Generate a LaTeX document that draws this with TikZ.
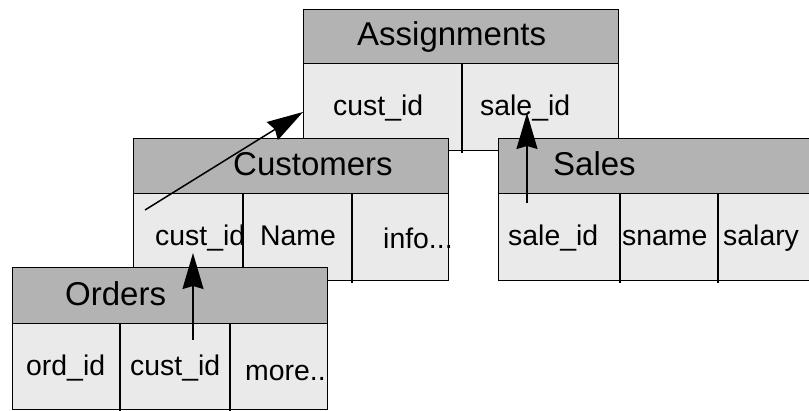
\documentclass[tikz,border=0pt]{standalone}
\usepackage{fontspec}
\setmainfont{Liberation Sans}
\usetikzlibrary{arrows.meta}
\definecolor{hdrgray}{HTML}{B3B3B3}
\definecolor{cellgray}{HTML}{EAEAEA}
\begin{document}
\begin{tikzpicture}[x=1pt,y=-1pt,
  hdrbox/.style={draw=black, line width=1.3pt, fill=hdrgray, anchor=north west, inner sep=0pt},
  cellbox/.style={draw=black, line width=1.3pt, fill=cellgray, anchor=north west, inner sep=0pt},
  divline/.style={draw=black, line width=1.3pt},
  ttl/.style={anchor=base west, inner sep=0pt, font=\fontsize{33}{36}\selectfont},
  fld/.style={anchor=base west, inner sep=0pt, font=\fontsize{28.4}{32}\selectfont},
  link/.style={draw=black, line width=1.5pt, -{Stealth[length=36pt, width=21pt, inset=3pt]}}]
\useasboundingbox (0,0) rectangle (809,410);
\clip (0,0) rectangle (809,410);
% Assignments
\node[hdrbox, minimum width=315pt, minimum height=54pt] (asgH) at (303,9) {};
\node[cellbox, minimum width=315pt, minimum height=87pt] (asgB) at (303,63) {};
\draw[divline] (462,63) -- (462,153);
\node[ttl] (asgT) at (357,45) {Assignments};
\node[fld] (asgC) at (333,115) {cust\_id};
\node[fld] (asgS) at (480,115) {sale\_id};
% Sales
\node[hdrbox, minimum width=330pt, minimum height=55pt] (salH) at (498,138) {};
\node[cellbox, minimum width=330pt, minimum height=87pt] (salB) at (498,193) {};
\draw[divline] (620,193) -- (620,283);
\draw[divline] (718,193) -- (718,283);
\node[ttl] (salT) at (553,175) {Sales};
\node[fld] (salS) at (508,245) {sale\_id};
\node[fld] (salN) at (622,245) {sname};
\node[fld] (salY) at (723,245) {salary};
% Customers
\node[hdrbox, minimum width=315pt, minimum height=55pt] (cusH) at (133,138) {};
\node[cellbox, minimum width=315pt, minimum height=87pt] (cusB) at (133,193) {};
\draw[divline] (243,193) -- (243,280);
\draw[divline] (352,193) -- (352,283);
\node[ttl] (cusT) at (233,175) {Customers};
\node[fld] (cusC) at (155,245) {cust\_id};
\node[fld] (cusN) at (260,245) {Name};
\node[fld] (cusI) at (383,248) {info...};
% Orders
\node[hdrbox, minimum width=315pt, minimum height=56pt] (ordH) at (12,267) {};
\node[cellbox, minimum width=315pt, minimum height=86pt] (ordB) at (12,323) {};
\draw[divline] (120,323) -- (120,412);
\draw[divline] (230,323) -- (230,412);
\node[ttl] (ordT) at (65,305) {Orders};
\node[fld] (ordO) at (26,375) {ord\_id};
\node[fld] (ordC) at (130,375) {cust\_id};
\node[fld] (ordM) at (245,380) {more..};
% connectors
\coordinate (a1) at (193,340);
\coordinate (b1) at (193,253);
\coordinate (a2) at (145,210);
\coordinate (b2) at (303,112);
\coordinate (a3) at (527,203);
\coordinate (b3) at (527,113);
\draw[link] (a1) -- (b1);
\draw[link] (a2) -- (b2);
\draw[link] (a3) -- (b3);
\end{tikzpicture}
\end{document}
